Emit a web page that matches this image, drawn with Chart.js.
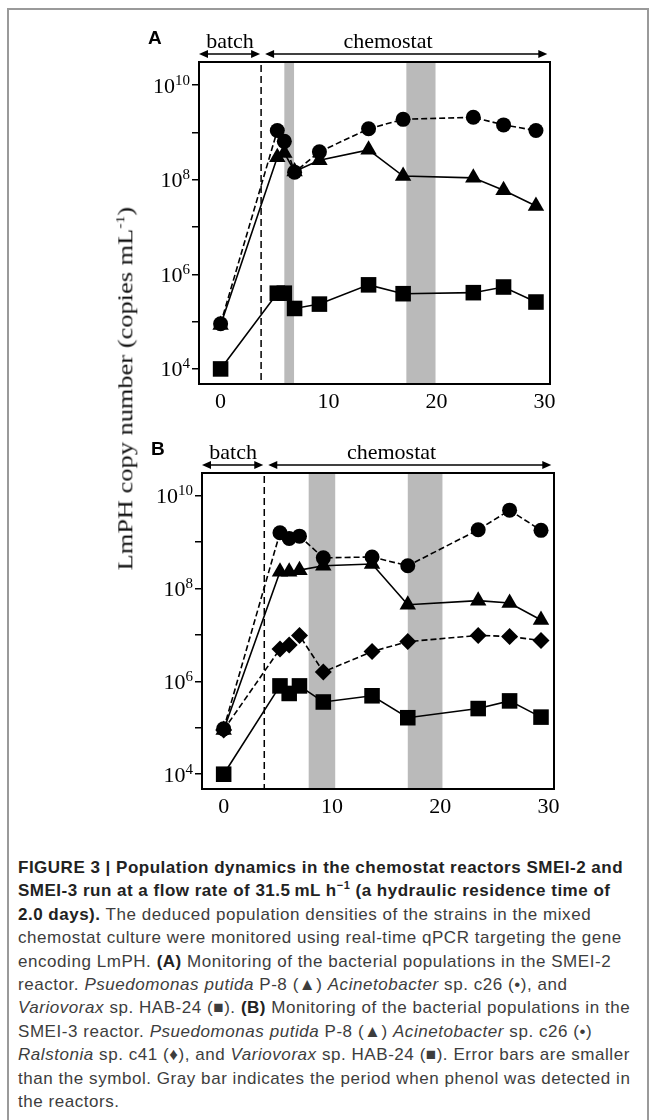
<!DOCTYPE html><html lang="en"><head><meta charset="UTF-8">
<title>Figure 3</title>
<script src="https://cdn.jsdelivr.net/npm/chart.js"></script>
<style>
    body {
        margin: 0;
        background: #fff;
        width: 654px;
        height: 1120px;
        overflow: hidden;
        position: relative;
    }
    .frame {
        position: absolute;
        left: 7px;
        top: 8px;
        width: 638px;
        height: 1200px;
        border: 2px solid #9a9a9a;
    }
    canvas {
        position: absolute;
        left: 0;
    }
    #chartA { top: 0; }
    #chartB { top: 410px; }
    .ytitle {
        position: absolute;
        left: -77px;
        top: 372px;
        width: 400px;
        text-align: center;
        font-family: "Liberation Serif", serif;
        font-size: 22px;
        line-height: 28px;
        color: #111;
        transform: rotate(-90deg) scaleX(1.2);
        white-space: nowrap;
    }
    .ytitle sup { font-size: 13px; }
    .caption {
        position: absolute;
        left: 18px;
        top: 856px;
        font-family: "Liberation Sans", Arial, sans-serif;
        font-size: 17px;
        letter-spacing: 0.55px;
        line-height: 23.4px;
        color: #3d3d3d;
        white-space: nowrap;
    }
    .caption b { color: #222; letter-spacing: 0.5px; }
    .caption sup { font-size: 11px; line-height: 0; }
</style>
</head>
<body>
    <div class="frame"></div>
    <canvas id="chartA" width="654" height="420"></canvas>
    <canvas id="chartB" width="654" height="420"></canvas>
    <div class="ytitle">LmPH copy number (copies mL<sup>-1</sup>)</div>
    <div class="caption">
        <b>FIGURE 3 | Population dynamics in the chemostat reactors SMEI-2 and</b><br>
        <b>SMEI-3 run at a flow rate of 31.5&#8201;mL h<sup>−1</sup> (a hydraulic residence time of</b><br>
        <b>2.0 days).</b> The deduced population densities of the strains in the mixed<br>
        chemostat culture were monitored using real-time qPCR targeting the gene<br>
        encoding LmPH. <b>(A)</b> Monitoring of the bacterial populations in the SMEI-2<br>
        reactor. <i>Psuedomonas putida</i> P-8 (▲) <i>Acinetobacter</i> sp. c26 (•), and<br>
        <i>Variovorax</i> sp. HAB-24 (■). <b>(B)</b> Monitoring of the bacterial populations in the<br>
        SMEI-3 reactor. <i>Psuedomonas putida</i> P-8 (▲) <i>Acinetobacter</i> sp. c26 (•)<br>
        <i>Ralstonia</i> sp. c41 (♦), and <i>Variovorax</i> sp. HAB-24 (■). Error bars are smaller<br>
        than the symbol. Gray bar indicates the period when phenol was detected in<br>
        the reactors.
    </div>
    <script>
        // panel A (SMEI-2)
        const daysA = [0, 5.25, 5.9, 6.85, 9.15, 13.7, 16.9, 23.4, 26.2, 29.2];
        const putidaA = [8.5e4, 3.0e8, 3.7e8, 1.5e8, 2.6e8, 4.3e8, 1.2e8, 1.1e8, 6.0e7, 2.8e7];
        const acinetoA = [9e4, 1.1e9, 6.5e8, 1.45e8, 3.9e8, 1.2e9, 1.9e9, 2.1e9, 1.45e9, 1.1e9];
        const varioA = [1e4, 4.0e5, 4.0e5, 1.9e5, 2.35e5, 6.0e5, 3.9e5, 4.1e5, 5.4e5, 2.6e5];
        const phenolA = [[5.9, 6.8], [17.2, 19.9]];

        // panel B (SMEI-3)
        const daysB = [0, 5.2, 6.05, 7.0, 9.2, 13.7, 17.0, 23.5, 26.4, 29.3];
        const putidaB = [9e4, 2.3e8, 2.3e8, 2.5e8, 3.1e8, 3.4e8, 4.5e7, 5.5e7, 4.9e7, 2.1e7];
        const acinetoB = [9.5e4, 1.6e9, 1.2e9, 1.35e9, 4.6e8, 4.8e8, 3.1e8, 1.85e9, 4.9e9, 1.8e9];
        const ralstoniaB = [9e4, 5.0e6, 6.1e6, 9.8e6, 1.6e6, 4.4e6, 7.2e6, 9.8e6, 9.3e6, 7.6e6];
        const varioB = [1e4, 8.0e5, 5.5e5, 8.0e5, 3.6e5, 4.9e5, 1.65e5, 2.6e5, 3.8e5, 1.7e5];
        const phenolB = [[7.85, 10.3], [17.0, 20.2]];

        const batchEnd = 3.75;
        const yTickValues = [1e4, 1e5, 1e6, 1e7, 1e8, 1e9, 1e10];
        const yTickExp = ['4', '', '6', '', '8', '', '10'];   // label = 10^exp, blank = minor tick
        const xTickValues = [0, 10, 20, 30];

        const serif = '"Liberation Serif", "Times New Roman", serif';

        function pts(days, vals) {
            return vals.map((v, i) => ({x: days[i], y: v}));
        }

        function arrow(ctx, x0, x1, y) {
            ctx.beginPath();
            ctx.moveTo(x0 + 6, y);
            ctx.lineTo(x1 - 6, y);
            ctx.stroke();
            ctx.beginPath();
            ctx.moveTo(x0, y); ctx.lineTo(x0 + 9, y - 4); ctx.lineTo(x0 + 9, y + 4); ctx.closePath();
            ctx.moveTo(x1, y); ctx.lineTo(x1 - 9, y - 4); ctx.lineTo(x1 - 9, y + 4); ctx.closePath();
            ctx.fill();
        }

        const extras = {
            id: 'extras',
            beforeDatasetsDraw(chart, args, opts) {
                const ctx = chart.ctx, a = chart.chartArea, x = chart.scales.x;
                ctx.save();
                ctx.fillStyle = '#bababa';
                opts.bands.forEach(b => {
                    const x0 = x.getPixelForValue(b[0]), x1 = x.getPixelForValue(b[1]);
                    ctx.fillRect(x0, a.top, x1 - x0, a.bottom - a.top);
                });
                const xs = x.getPixelForValue(batchEnd);
                ctx.strokeStyle = '#000';
                ctx.lineWidth = 1.5;
                ctx.setLineDash([7, 4]);
                ctx.beginPath();
                ctx.moveTo(xs, a.top + 3);
                ctx.lineTo(xs, a.bottom);
                ctx.stroke();
                ctx.setLineDash([]);
                ctx.lineWidth = 2;
                ctx.strokeRect(a.left, a.top, a.right - a.left, a.bottom - a.top);
                ctx.restore();
            },
            afterDraw(chart, args, opts) {
                const ctx = chart.ctx, a = chart.chartArea, x = chart.scales.x, y = chart.scales.y;
                const xs = x.getPixelForValue(batchEnd);
                const ya = a.top - 8;
                ctx.save();
                ctx.strokeStyle = '#000';
                ctx.fillStyle = '#000';
                ctx.lineWidth = 1.5;
                arrow(ctx, a.left, xs - 1, ya);
                arrow(ctx, xs + 4, x.getPixelForValue(30.25), ya);
                ctx.font = '22px ' + serif;
                ctx.textAlign = 'center';
                ctx.textBaseline = 'middle';
                ctx.fillText('batch', (a.left + xs) / 2, ya - 12);
                ctx.fillText('chemostat', x.getPixelForValue(15.5), ya - 12);

                // y tick labels as 10 with a raised exponent
                ctx.textBaseline = 'alphabetic';
                ctx.textAlign = 'left';
                yTickValues.forEach((v, i) => {
                    const e = yTickExp[i];
                    if (!e) return;
                    const py = y.getPixelForValue(v);
                    ctx.font = '15px ' + serif;
                    const ew = ctx.measureText(e).width;
                    ctx.font = '22px ' + serif;
                    const bw = ctx.measureText('10').width;
                    const right = a.left - 9;
                    ctx.fillText('10', right - ew - bw, py + 7.5);
                    ctx.font = '15px ' + serif;
                    ctx.fillText(e, right - ew, py - 0.5);
                });

                ctx.font = 'bold 19px "Liberation Sans", Arial, sans-serif';
                ctx.textBaseline = 'middle';
                ctx.fillText(opts.letter, a.left - 51, a.top - 23);
                ctx.restore();
            }
        };

        function series(label, data, style, radius, dashed, order) {
            return {
                label: label,
                data: data,
                pointStyle: style,
                pointRadius: radius,
                pointBackgroundColor: '#000',
                pointBorderColor: '#000',
                pointBorderWidth: 0,
                borderColor: '#000',
                borderWidth: 1.6,
                borderDash: dashed ? [6, 3] : [],
                tension: 0,
                fill: false,
                order: order,
                clip: false
            };
        }

        function makeChart(id, datasets, bands, letter, pad, xHeight) {
            new Chart(document.getElementById(id), {
                type: 'line',
                data: {datasets: datasets},
                plugins: [extras],
                options: {
                    responsive: false,
                    animation: false,
                    layout: {padding: {left: 0, right: pad.right, top: pad.top, bottom: 0}},
                    plugins: {
                        legend: {display: false},
                        tooltip: {enabled: false},
                        extras: {bands: bands, letter: letter}
                    },
                    scales: {
                        x: {
                            type: 'linear',
                            min: -2,
                            max: 30.5,
                            afterBuildTicks: s => { s.ticks = xTickValues.map(v => ({value: v})); },
                            afterFit: s => { s.height = xHeight; },
                            grid: {display: true, drawOnChartArea: false, drawTicks: false},
                            border: {display: true, color: '#000', width: 2},
                            ticks: {color: '#000', font: {family: serif, size: 22}, padding: 5, maxRotation: 0}
                        },
                        y: {
                            type: 'logarithmic',
                            min: 4800,
                            max: 3.1e10,
                            afterBuildTicks: s => { s.ticks = yTickValues.map(v => ({value: v})); },
                            afterFit: s => { s.width = pad.left; },
                            grid: {display: true, drawOnChartArea: false, drawTicks: true, tickLength: 7, color: '#000', lineWidth: 1.5},
                            border: {display: true, color: '#000', width: 2},
                            ticks: {display: false, autoSkip: false}
                        }
                    }
                }
            });
        }

        makeChart('chartA', [
            series('Acinetobacter sp. c26', pts(daysA, acinetoA), 'circle', 7.5, true, 0),
            series('Psuedomonas putida P-8', pts(daysA, putidaA), 'triangle', 9.5, false, 1),
            series('Variovorax sp. HAB-24', pts(daysA, varioA), 'rect', 11, false, 3)
        ], phenolA, 'A', {left: 199, right: 104, top: 62}, 36);

        makeChart('chartB', [
            series('Acinetobacter sp. c26', pts(daysB, acinetoB), 'circle', 7.5, true, 0),
            series('Psuedomonas putida P-8', pts(daysB, putidaB), 'triangle', 9.5, false, 1),
            series('Ralstonia sp. c41', pts(daysB, ralstoniaB), 'rectRot', 8.5, true, 2),
            series('Variovorax sp. HAB-24', pts(daysB, varioB), 'rect', 11, false, 3)
        ], phenolB, 'B', {left: 202, right: 100, top: 63}, 41);
    </script>
</body>
</html>
